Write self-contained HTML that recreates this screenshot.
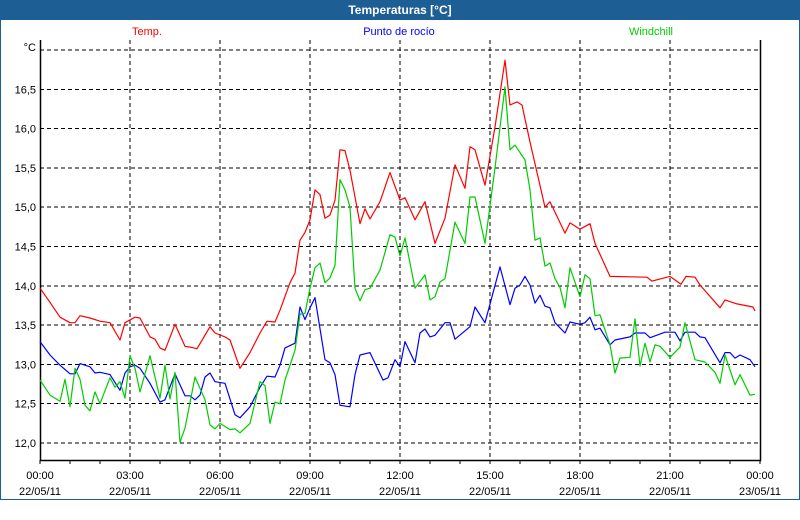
<!DOCTYPE html>
<html><head><meta charset="utf-8">
<style>
html,body{margin:0;padding:0;}
body{width:800px;height:500px;overflow:hidden;background:#fff;font-family:"Liberation Sans",Tahoma,sans-serif;}
#wrap{position:relative;width:798px;height:479px;border:1px solid #1d5e94;border-top:none;margin-top:20px;}
#titlebar{position:absolute;left:0;top:0;width:800px;height:20px;background:#1d5e94;color:#fff;font-weight:bold;font-size:12px;text-align:center;line-height:20px;}
svg{position:absolute;left:0;top:0;}
</style></head><body>
<div id="titlebar">Temperaturas [°C]</div>
<div id="wrap"></div>
<svg id="chart" width="800" height="500" font-family="Liberation Sans, sans-serif" font-size="11"></svg>
<script>
const yTicks=[12.0,12.5,13.0,13.5,14.0,14.5,15.0,15.5,16.0,16.5,17.0];
const xTickHours=[0,3,6,9,12,15,18,21,24];
const xTimeLabels=["00:00","03:00","06:00","09:00","12:00","15:00","18:00","21:00","00:00"];
const xDateLabels=["22/05/11","22/05/11","22/05/11","22/05/11","22/05/11","22/05/11","22/05/11","22/05/11","23/05/11"];
const tempX=[0,20,40,60,70,80,100,120,140,160,170,190,200,220,230,240,250,270,290,300,314,340,350,370,380,400,420,440,454,470,480,500,510,520,530,540,550,560,570,580,590,600,610,620,640,650,660,680,700,720,730,750,770,790,810,830,850,860,870,890,910,930,940,954,964,980,1010,1020,1050,1060,1080,1100,1110,1140,1214,1224,1260,1282,1292,1310,1320,1360,1370,1394,1426,1430];
const tempV=[13.97,13.79,13.60,13.53,13.53,13.62,13.59,13.55,13.53,13.31,13.53,13.60,13.59,13.35,13.32,13.21,13.18,13.51,13.23,13.22,13.20,13.48,13.40,13.35,13.31,12.95,13.15,13.40,13.55,13.54,13.69,14.04,14.16,14.58,14.68,14.84,15.22,15.16,14.86,14.90,15.09,15.73,15.72,15.47,14.79,14.98,14.85,15.07,15.44,15.09,15.12,14.84,15.07,14.54,14.86,15.54,15.24,15.77,15.73,15.28,16.02,16.87,16.30,16.34,16.30,15.83,15.00,15.07,14.67,14.80,14.72,14.79,14.54,14.12,14.11,14.06,14.12,14.02,14.12,14.11,14.01,13.72,13.82,13.77,13.73,13.68];
const dewX=[0,20,40,60,70,80,100,110,120,140,160,170,180,190,200,220,240,250,270,290,300,310,320,330,340,350,370,390,400,420,440,454,470,480,490,510,520,530,540,550,570,580,590,600,620,630,640,660,686,696,710,720,730,750,760,770,780,790,810,820,830,860,870,890,920,940,950,960,970,980,990,1000,1010,1020,1030,1050,1060,1080,1090,1100,1110,1120,1140,1150,1180,1190,1210,1220,1250,1270,1280,1290,1310,1320,1330,1360,1370,1380,1390,1400,1420,1430];
const dewV=[13.29,13.12,12.99,12.88,12.88,13.01,12.97,12.89,12.90,12.87,12.67,12.89,12.97,12.99,12.95,12.76,12.52,12.55,12.88,12.60,12.60,12.55,12.61,12.84,12.89,12.78,12.76,12.36,12.32,12.46,12.71,12.85,12.84,12.99,13.21,13.27,13.73,13.57,13.72,13.85,13.06,13.02,12.87,12.48,12.46,12.87,13.12,13.15,12.80,12.83,13.06,12.97,13.29,13.02,13.40,13.45,13.35,13.37,13.53,13.53,13.32,13.48,13.73,13.53,14.24,13.76,13.97,14.01,14.12,14.01,13.78,13.88,13.74,13.72,13.53,13.40,13.54,13.51,13.53,13.60,13.44,13.46,13.25,13.31,13.35,13.40,13.40,13.34,13.41,13.41,13.30,13.41,13.41,13.35,13.34,13.02,13.15,13.15,13.08,13.12,13.06,12.97];
const windX=[0,20,40,50,60,70,80,90,100,110,120,140,150,160,170,180,190,200,220,240,250,260,270,280,290,310,330,340,350,360,380,390,400,420,440,450,460,470,480,490,510,520,530,540,550,560,570,580,590,600,610,620,630,640,650,660,680,700,710,720,730,750,770,780,790,800,810,830,850,860,870,890,910,930,940,950,970,980,990,1000,1010,1020,1030,1040,1050,1060,1080,1090,1100,1110,1120,1140,1150,1160,1180,1190,1200,1210,1220,1230,1240,1260,1280,1290,1310,1330,1350,1360,1370,1390,1400,1420,1430];
const windV=[12.80,12.61,12.53,12.81,12.46,12.95,12.81,12.48,12.41,12.65,12.50,12.83,12.71,12.78,12.57,13.11,12.95,12.65,13.11,12.57,12.99,12.56,12.90,12.01,12.19,12.84,12.55,12.23,12.18,12.25,12.17,12.18,12.13,12.25,12.78,12.73,12.25,12.52,12.50,12.80,13.18,13.64,13.65,13.97,14.23,14.29,14.04,14.10,14.26,15.35,15.22,15.00,13.97,13.81,13.95,13.97,14.20,14.65,14.62,14.38,14.61,13.97,14.14,13.82,13.86,14.05,14.09,14.81,14.54,15.13,15.13,14.54,15.50,16.53,15.73,15.79,15.60,15.22,14.58,14.61,14.25,14.29,14.09,13.98,13.72,14.23,13.86,14.14,14.09,13.62,13.63,13.25,12.89,13.08,13.09,13.58,12.98,13.27,13.03,13.25,13.23,13.09,13.22,13.53,13.06,13.03,12.90,12.76,13.12,12.74,12.87,12.61,12.62];
const NS='http://www.w3.org/2000/svg';
const svg=document.getElementById('chart');
const L=40,R=760,T=40,B=460;
function xPx(min){return L+min/2;}
function yPx(v){return 443-(v-12)*78.6;}
function mk(tag,attrs,parent){const e=document.createElementNS(NS,tag);for(const k in attrs)e.setAttribute(k,attrs[k]);(parent||svg).appendChild(e);return e;}
yTicks.forEach((v,i)=>{
  const g=mk('line',{x1:L,x2:R,y1:yPx(v),y2:yPx(v),stroke:'#000','stroke-dasharray':'4,3','stroke-width':1,'shape-rendering':'crispEdges'});
  
  
  if(i<yTicks.length-1){
    const t=mk('text',{x:36,y:yPx(v)+4,'text-anchor':'end',fill:'#000'});
    t.textContent=v.toFixed(1).replace('.',',');
    
    
  }
});
const unit=mk('text',{x:36,y:yPx(17)+1,'text-anchor':'end',fill:'#000'});
unit.textContent='°C';


xTickHours.forEach((h,i)=>{
  const x=xPx(h*60);
  if(i>0&&i<xTickHours.length-1){
    const g=mk('line',{x1:x,x2:x,y1:T,y2:B,stroke:'#000','stroke-dasharray':'4,3','stroke-width':1,'shape-rendering':'crispEdges'});
    
    
  }
  const t1=mk('text',{x:x,y:479,'text-anchor':'middle',fill:'#000'});
  t1.textContent=xTimeLabels[i];
  
  
  const t2=mk('text',{x:x,y:495,'text-anchor':'middle',fill:'#000'});
  t2.textContent=xDateLabels[i];
  
  
});
for(let h=0;h<=24;h++){
  const tk=mk('line',{x1:xPx(h*60),x2:xPx(h*60),y1:B,y2:B+4,stroke:'#000','shape-rendering':'crispEdges'});
  
  
}
const ax=mk('path',{d:`M${L+.5},${T} V${B+.5} H${R+.5} V${T}`,fill:'none',stroke:'#000','stroke-width':1.5});


function series(xs,vs,color,name){
  const n=Math.min(xs.length,vs.length);
  let d='';
  for(let i=0;i<n;i++)d+=(i?'L':'M')+xPx(xs[i]).toFixed(1)+','+yPx(vs[i]).toFixed(1);
  const p=mk('path',{d:d,fill:'none',stroke:color,'stroke-width':1.2,'stroke-linejoin':'round'});
  
  
}
series(tempX,tempV,'#ff0000','temp-line');
series(dewX,dewV,'#0000ff','dew-point-line');
series(windX,windV,'#00cc00','windchill-line');
[['Temp.',147,'#ff0000','legend-temp'],['Punto de rocío',399,'#0000ff','legend-dew-point'],['Windchill',651,'#00cc00','legend-windchill']].forEach(a=>{
  const t=mk('text',{x:a[1],y:35,'text-anchor':'middle',fill:a[2]});
  t.textContent=a[0];
  
  
});
</script>
</body></html>
